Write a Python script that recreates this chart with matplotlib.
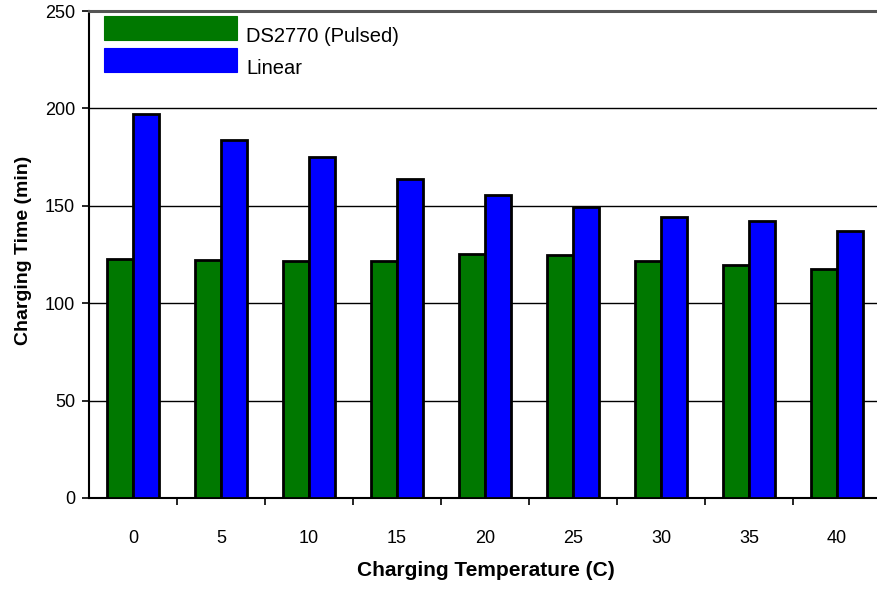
import matplotlib
matplotlib.use("Agg")
import matplotlib.pyplot as plt
from matplotlib.patches import Rectangle
import numpy as np

plt.rcParams['font.family'] = ['Liberation Sans', 'DejaVu Sans']

categories = ["0", "5", "10", "15", "20", "25", "30", "35", "40"]
pulsed = [122.5, 122, 121.5, 121.5, 125.5, 124.5, 121.5, 119.5, 117.5]
linear = [197, 184, 175, 164, 155.5, 149.5, 144, 142, 137]
series_names = ["DS2770 (Pulsed)", "Linear"]
colors = ["#007800", "#0000FF"]

fig = plt.figure(figsize=(8.77, 5.89), dpi=100)
ax = fig.add_axes([89/877, 91/589, 792/877, 487/589])

x = np.arange(len(categories))
w = 0.295
ax.bar(x - w/2, pulsed, width=w, color=colors[0], edgecolor="black", linewidth=2, zorder=3)
ax.bar(x + w/2, linear, width=w, color=colors[1], edgecolor="black", linewidth=2, zorder=3)

ax.set_ylim(0, 250)
ax.set_xlim(-0.5, len(categories) - 0.5)
ax.set_yticks([0, 50, 100, 150, 200, 250])
ax.set_yticklabels(["0", "50", "100", "150", "200", "250"], fontsize=13)
ax.set_xticks(x)
ax.set_xticklabels(categories, fontsize=13)
ax.tick_params(axis='x', which='major', length=0, pad=23)
ax.set_xticks(np.arange(0.5, len(categories) - 0.5, 1), minor=True)
ax.tick_params(axis='x', which='minor', length=5, width=1.2, direction='out', color='black')
ax.tick_params(axis='y', length=5, width=1.2, direction='out', pad=5)

for yv in [50, 100, 150, 200]:
    ax.axhline(yv, color="black", linewidth=1.0, zorder=1)

ax.spines['right'].set_visible(False)
ax.spines['top'].set_color('#555555')
ax.spines['top'].set_linewidth(2.2)
ax.spines['left'].set_linewidth(1.5)
ax.spines['bottom'].set_linewidth(1.5)

ax.set_xlabel("Charging Temperature (C)", fontsize=15, fontweight="bold")
ax.set_ylabel("Charging Time (min)", fontsize=14, fontweight="bold")
ax.xaxis.set_label_coords((486 - 89) / 792, -63 / 487)
ax.yaxis.set_label_coords(-57 / 792, (498 - 250) / 487)

# legend drawn as large swatches
for i, (name, c) in enumerate(zip(series_names, colors)):
    y0 = 589 - 40 - i * 32
    fig.patches.append(Rectangle((104/877, y0/589), 133/877, 24/589, transform=fig.transFigure,
                                 facecolor=c, edgecolor=c, linewidth=0.8, zorder=5))
    fig.text(246/877, (589 - 36 - i * 32)/589, name, fontsize=14.5, va='center', ha='left')

fig.savefig("out.png", dpi=100)
